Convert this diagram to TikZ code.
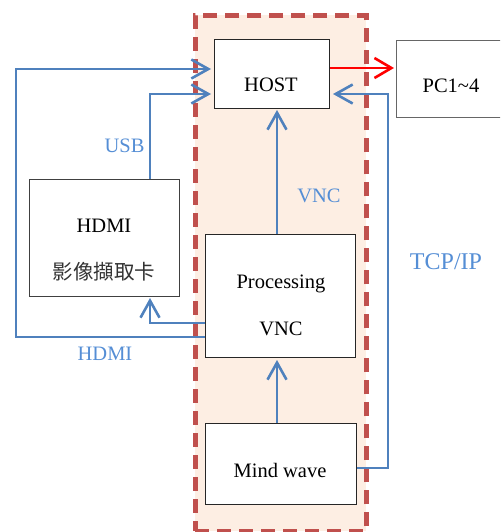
\documentclass[tikz,border=0pt]{standalone}
\usepackage{fontspec}
\setmainfont{Liberation Serif}
\newfontfamily\cjk{Noto Sans CJK TC}
\usetikzlibrary{arrows.meta,calc}
\definecolor{lineblue}{HTML}{4F81BD}
\definecolor{labelblue}{HTML}{558ED5}
\definecolor{dashred}{HTML}{C0504D}
\definecolor{peach}{HTML}{FDEEE3}
\begin{document}
\begin{tikzpicture}[x=1pt,y=-1pt,
  container/.style={draw=dashred,line width=4.8pt,dash pattern=on 14pt off 8pt,fill=peach,inner sep=0pt,anchor=north west},
  box/.style={draw=black!85,line width=1pt,fill=white,inner sep=0pt,anchor=north west},
  txt/.style={anchor=base,inner sep=0pt,font=\fontsize{20.5}{24}\selectfont},
  lbl/.style={anchor=base,inner sep=0pt,text=labelblue,font=\fontsize{20.5}{24}\selectfont},
  conn/.style={draw=lineblue,line width=2.6pt,-{Straight Barb[length=17pt,width=19pt]}},
  redconn/.style={draw=red,line width=2.6pt,-{Straight Barb[length=17pt,width=20pt]}}]
\useasboundingbox (0,0) rectangle (500,532);
\begin{scope}
\clip (0,0) rectangle (500,532);
% dashed group
\node[container,minimum width=171pt,minimum height=516pt] (group) at (193,13) {};
% boxes
\node[box,minimum width=115pt,minimum height=69pt] (host) at (214,39) {};
\node[box,draw=black!60,minimum width=130pt,minimum height=77pt] (pc) at (396,40) {};
\node[box,draw=black!75,minimum width=150pt,minimum height=117pt] (hdmi) at (29,179) {};
\node[box,minimum width=150pt,minimum height=123pt] (proc) at (205,234) {};
\node[box,minimum width=151pt,minimum height=81pt] (mind) at (205,423) {};
% box texts
\node[txt] (thost) at (271,92) {HOST};
\node[txt] (tpc) at (451,93) {PC1\char"007E 4};
\node[txt] (thdmi) at (104,232) {HDMI};
\node[txt,text=black!80] (tcard) at (104,279) {\cjk 影像擷取卡};
\node[txt] (tproc) at (281,288) {Processing};
\node[txt] (tvnc) at (281,335) {VNC};
\node[txt] (tmind) at (280,477) {Mind wave};
% connector labels
\node[lbl] (lusb) at (124.5,152) {USB};
\node[lbl] (lvnc) at (319,202) {VNC};
\node[lbl,font=\fontsize{24}{28}\selectfont] (ltcp) at (446,269) {TCP/IP};
\node[lbl] (lhdmi) at (105,360) {HDMI};
% connectors
\draw[redconn] ($(host.north east)+(0,29)$) -- ($(pc.north west)+(-2,28)$);
\draw[conn] ($(proc.south west)+(0,-21)$) -| ($(host.north west)+(-198,30)$) -- ($(host.north west)+(-3,30)$);
\draw[conn] ($(hdmi.north west)+(121,0)$) |- ($(host.north west)+(-3,55)$);
\draw[conn] ($(proc.south west)+(0,-35)$) -| ($(hdmi.south west)+(121,1)$);
\draw[conn] ($(proc.north west)+(72,0)$) -- ($(host.south west)+(63,1)$);
\draw[conn] ($(mind.north west)+(72,0)$) -- ($(proc.south west)+(72,2)$);
\draw[conn] ($(mind.south east)+(0,-37)$) -| ($(host.north east)+(58,55)$) -- ($(host.north east)+(3,55)$);
\end{scope}
\end{tikzpicture}
\end{document}
